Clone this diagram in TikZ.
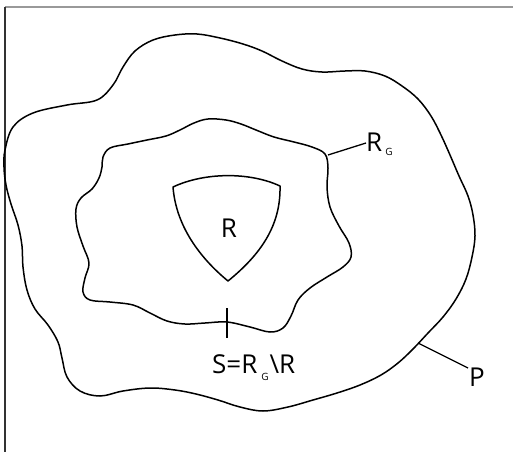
\documentclass[tikz,border=0pt]{standalone}
\usepackage{fontspec}
\setmainfont{Open Sans}
\begin{document}
\begin{tikzpicture}[x=1pt,y=-1pt,
  outline/.style={line width=1.5pt, line join=round},
  leader/.style={line width=1.3pt},
  lbl/.style={inner sep=0pt, font=\fontsize{26}{26}\selectfont},
]
\newcommand{\subG}[1]{\kern#1\raisebox{-4pt}{\fontsize{10}{10}\selectfont G}}
\useasboundingbox (0,0) rectangle (513,452);
% frame edges
\draw[line width=2pt, gray!80] (5,7) -- (513,7);
\draw[line width=1.6pt, black!80] (5,7) -- (5,452);

% outer region P
\draw[outline] plot[smooth cycle, tension=0.6] coordinates {
 (5,150) (13,127) (33,113) (67,105) (97,100) (113,85) (123,67) (135,51)
 (153,40) (175,35) (197,34) (220,38) (243,44) (262,51) (282,61) (302,69)
 (322,72) (345,71) (365,71) (385,76) (402,86) (418,99) (431,116) (441,135)
 (450,155) (459,176) (468,196) (473,215) (475,236) (472,257) (466,279)
 (456,299) (443,317) (428,333) (413,349) (398,363) (381,375) (360,385)
 (337,393) (313,400) (288,407) (263,411) (240,407) (218,400) (196,394)
 (175,390) (150,388) (123,391) (100,396) (80,391) (67,377) (62,358)
 (58,342) (48,325) (35,309) (27,290) (23,267) (22,246) (18,225) (11,204)
 (6,185) (4,167)};

% middle region R_G
\draw[outline] plot[smooth cycle, tension=0.6] coordinates {
 (103,157) (110,148) (128,144) (147,140) (166,136) (180,130) (194,123)
 (208,119) (226,120) (241,124) (256,130) (274,137) (294,142) (312,147)
 (325,154) (328,168) (327,187) (330,207) (339,226) (349,243) (351,257)
 (343,267) (327,277) (310,288) (298,300) (291,316) (283,328) (270,332)
 (250,327) (227,322) (205,323) (185,324) (167,321) (150,313) (133,305)
 (110,302) (90,300) (83,292) (85,278) (89,263) (83,246) (77,227)
 (76,209) (81,198) (92,189) (99,178) (102,167)};

% inner region R
\draw[outline] (173,187) .. controls (205,172) and (250,172) .. (280,186)
  .. controls (281,226) and (260,255) .. (228,281)
  .. controls (200,258) and (176,226) .. (173,187) -- cycle;
\node[lbl] (r) at (229,228) {R};

% labels with leaders
\coordinate (rgpt) at (328,155);
\node[lbl, anchor=base west] (rg) at (366,151) {R\subG{3pt}};
\draw[leader] (rgpt) -- (rg.west |- 0,143);

\coordinate (ppt) at (418,343);
\node[lbl, anchor=base west] (p) at (469,386) {P};
\draw[leader] (ppt) -- (468,368);

\coordinate (stop) at (227,308);
\coordinate (sbot) at (227,338);
\draw[leader] (stop) -- (sbot);
\node[lbl, anchor=base west] (s) at (212,373) {S=R\kern4pt\raisebox{-7pt}{\fontsize{10}{10}\selectfont G}\kern1pt\textbackslash R};
\end{tikzpicture}
\end{document}
